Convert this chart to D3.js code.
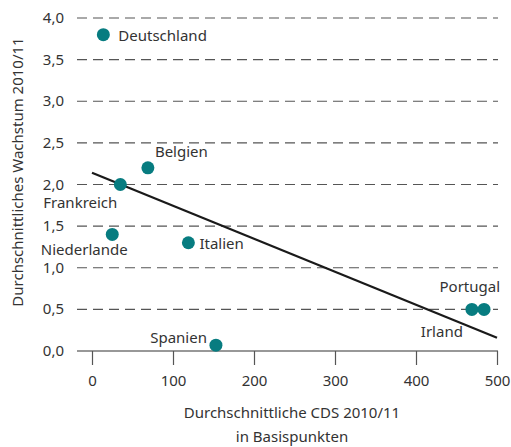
<!DOCTYPE html>
<html>
<head>
<meta charset="utf-8">
<script src="https://cdn.jsdelivr.net/npm/d3@7"></script>
<style>
  body { margin: 0; background: #fff; }
  svg text { font-family: "Noto Sans", "Open Sans", sans-serif; fill: #333; }
</style>
</head>
<body>
<div id="chart"></div>
<script>
// data
const countries = ["Deutschland", "Belgien", "Frankreich", "Niederlande", "Italien", "Spanien", "Irland", "Portugal"];
const cds = [14, 69, 35, 25, 119, 153, 469, 484];
const growth = [3.8, 2.2, 2.0, 1.4, 1.3, 0.07, 0.5, 0.5];
const trendCds = [0, 500];
const trendGrowth = [2.14, 0.16];
const xTicks = [0, 100, 200, 300, 400, 500];
const yTicks = [0, 0.5, 1, 1.5, 2, 2.5, 3, 3.5, 4];

// label placement around each dot (anchor, dx, dy)
const labelPos = {
  "Deutschland": ["start", 15, 6],
  "Belgien": ["start", 7, -11],
  "Frankreich": ["end", -3, 23],
  "Niederlande": ["middle", -28, 21],
  "Italien": ["start", 11, 6],
  "Spanien": ["end", -9, -2],
  "Irland": ["end", -9, 28],
  "Portugal": ["end", 16, -17]
};

const width = 511, height = 447;
const svg = d3.select("#chart").append("svg")
  .attr("width", width)
  .attr("height", height);

const x = d3.scaleLinear().domain([0, 500]).range([92, 497]);
const y = d3.scaleLinear().domain([0, 4]).range([351, 18]);
const fmt = d => d3.format(".1f")(d).replace(".", ",");
const fs = 15;

// dashed gridlines
svg.selectAll("line.grid")
  .data(yTicks.filter(d => d > 0))
  .enter().append("line")
  .attr("class", "grid")
  .attr("x1", 77).attr("x2", 498)
  .attr("y1", d => y(d)).attr("y2", d => y(d))
  .attr("stroke", "#555")
  .attr("stroke-width", 1.2)
  .attr("stroke-dasharray", "10,6");

// y tick labels
svg.selectAll("text.ytick")
  .data(yTicks)
  .enter().append("text")
  .attr("class", "ytick")
  .attr("x", 64)
  .attr("y", d => y(d) + 5)
  .attr("text-anchor", "end")
  .attr("font-size", fs)
  .text(fmt);

// x axis (baseline + downward ticks)
const xAxis = svg.append("g")
  .attr("transform", `translate(0,${y(0)})`)
  .call(d3.axisBottom(x).tickValues(xTicks).tickSize(14).tickFormat(d => d));
xAxis.select(".domain").attr("d", `M77,0H498`).attr("stroke", "#333").attr("stroke-width", 1.2);
xAxis.selectAll(".tick line").attr("stroke", "#555").attr("stroke-width", 1.2);
xAxis.selectAll(".tick text")
  .attr("y", 24)
  .attr("font-size", fs)
  .attr("font-family", "Noto Sans, Open Sans, sans-serif")
  .attr("fill", "#333");

// trend line
svg.append("line")
  .attr("x1", x(trendCds[0])).attr("y1", y(trendGrowth[0]))
  .attr("x2", x(trendCds[1])).attr("y2", y(trendGrowth[1]))
  .attr("stroke", "#1a1a1a")
  .attr("stroke-width", 2.2);

// dots
const pts = countries.map((c, i) => ({name: c, cds: cds[i], g: growth[i]}));
svg.selectAll("circle")
  .data(pts)
  .enter().append("circle")
  .attr("cx", d => x(d.cds))
  .attr("cy", d => y(d.g))
  .attr("r", 6.5)
  .attr("fill", "#077c80");

svg.selectAll("text.lbl")
  .data(pts)
  .enter().append("text")
  .attr("class", "lbl")
  .attr("x", d => x(d.cds) + labelPos[d.name][1])
  .attr("y", d => y(d.g) + labelPos[d.name][2])
  .attr("text-anchor", d => labelPos[d.name][0])
  .attr("font-size", fs)
  .text(d => d.name);

// axis titles
svg.append("text")
  .attr("transform", "translate(23,172) rotate(-90)")
  .attr("text-anchor", "middle")
  .attr("font-size", fs)
  .text("Durchschnittliches Wachstum 2010/11");

svg.append("text")
  .attr("x", 292).attr("y", 418)
  .attr("text-anchor", "middle")
  .attr("font-size", fs)
  .text("Durchschnittliche CDS 2010/11");
svg.append("text")
  .attr("x", 292).attr("y", 442)
  .attr("text-anchor", "middle")
  .attr("font-size", fs)
  .text("in Basispunkten");
</script>
</body>
</html>
